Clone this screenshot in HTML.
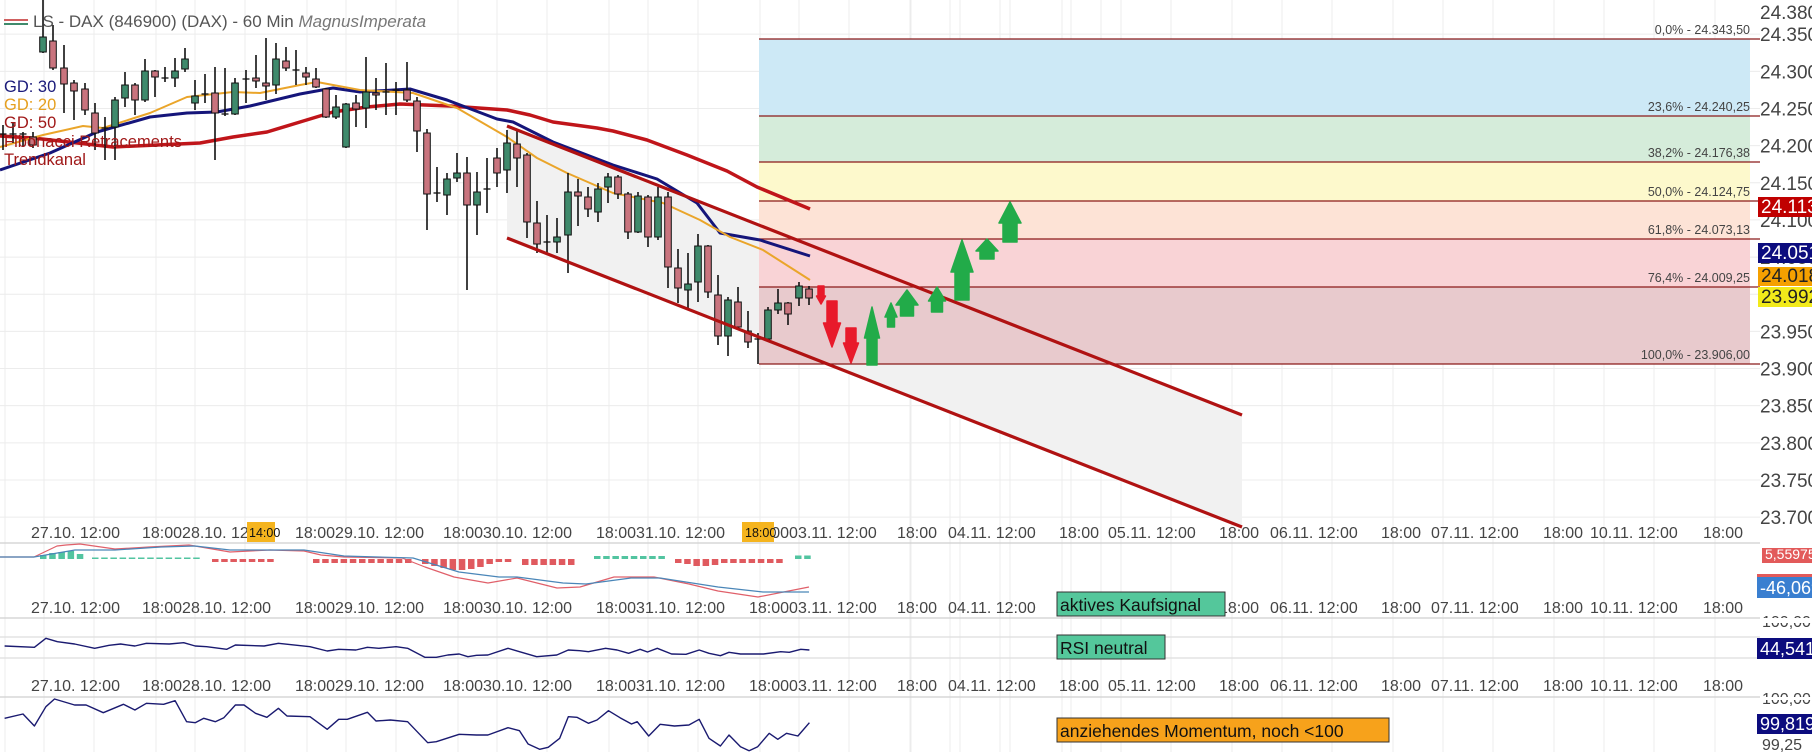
<!DOCTYPE html>
<html><head><meta charset="utf-8"><style>
html,body{margin:0;padding:0;background:#fff;width:1812px;height:752px;overflow:hidden}
svg{display:block}
text{font-family:"Liberation Sans",sans-serif}
</style></head><body>
<svg id="s" width="1812" height="752" viewBox="0 0 1812 752" xmlns="http://www.w3.org/2000/svg"></svg>
<script>
var o=[];
function P(s){o.push(s);}
function Y(p){return 39+(24343.5-p)*0.743;}
var gx=[];
for(var k=-3;k<5;k++){var b=396+151*k;gx.push(b,b+62,b+101);}
for(var k=0;k<6;k++){var b=799+161*k;gx.push(b,b+50,b+111);}
gx.forEach(function(x){if(x>0&&x<1760)P('<line x1="'+x+'" y1="0" x2="'+x+'" y2="752" stroke="#ececec" stroke-width="1"/>');});
for(var p=24350;p>=23700;p-=50){var y=Y(p);P('<line x1="0" y1="'+y+'" x2="1760" y2="'+y+'" stroke="#ececec"/>');}
P('<polygon points="507,126 1242,415 1242,527 507,238" fill="#f1f1f1"/>');
var fb=[[39,116,"#cde9f6"],[116,162,"#d5ecda"],[162,201,"#fdf9cc"],[201,239,"#fde3d6"],[239,287,"#f9d3d6"],[287,364,"#e8cacd"]];
fb.forEach(function(f){P('<rect x="759" y="'+f[0]+'" width="991" height="'+(f[1]-f[0])+'" fill="'+f[2]+'"/>');});
var fl=[[39,"0,0% - 24.343,50"],[116,"23,6% - 24.240,25"],[162,"38,2% - 24.176,38"],[201,"50,0% - 24.124,75"],[239,"61,8% - 24.073,13"],[287,"76,4% - 24.009,25"],[364,"100,0% - 23.906,00"]];
fl.forEach(function(f){P('<line x1="759" y1="'+f[0]+'" x2="1760" y2="'+f[0]+'" stroke="#8b1a1a" stroke-width="1.3"/>');P('<text x="1750" y="'+(f[0]-5)+'" font-size="12.5" fill="#444" text-anchor="end">'+f[1]+'</text>');});
function pl(pts,c,w){P('<polyline points="'+pts+'" fill="none" stroke="'+c+'" stroke-width="'+w+'" stroke-linejoin="round"/>');}
pl("0,136 33,138 113,147 200,143 233,137 267,132 300,122 333,112 367,107 400,104 450,106 507,110 530,115 553,122 597,128 613,131 647,140 687,155 727,171 757,187 810,209","#c0151a",3.5);
pl("0,170 50,153 97,132 150,117 187,113 217,112 250,106 300,94 333,88 360,92 410,89 447,100 497,119 513,122 553,142 613,165 657,179 697,203 720,233 760,240 810,256","#15157a",3);
pl("0,147 43,135 83,126 103,128 150,113 187,97 233,92 260,93 300,85 317,82 360,90 413,93 457,108 507,137 537,158 567,173 613,193 663,203 700,220 730,237 763,250 810,280","#eaa52a",2);
var C=[[3,134,136,125,150,'d'],[13,134,137,123,143,'d'],[23,134,136,132,147,'d'],[33,137,145,132,148,'p'],[43,37,52,0,53,'g'],[53,41,68,25,70,'p'],[64,68,84,45,113,'p'],[74,83,91,80,120,'p'],[85,89,110,83,115,'p'],[95,113,133,103,150,'p'],[105,128,130,117,160,'d'],[115,100,127,97,160,'g'],[125,85,98,72,107,'g'],[135,85,100,83,115,'p'],[145,71,100,59,102,'g'],[155,71,77,70,97,'p'],[165,78,80,67,82,'d'],[175,71,78,58,87,'g'],[185,59,69,48,72,'g'],[195,96,103,80,110,'g'],[205,94,96,74,103,'d'],[215,93,113,67,160,'p'],[225,114,116,68,116,'d'],[235,83,114,78,115,'g'],[246,79,81,70,103,'d'],[256,78,81,55,88,'p'],[266,83,86,38,100,'p'],[276,59,85,43,94,'g'],[286,61,68,47,71,'p'],[296,70,72,50,85,'d'],[306,73,77,67,85,'p'],[316,79,87,68,88,'p'],[326,89,117,88,118,'p'],[336,107,117,95,119,'g'],[346,104,147,103,148,'g'],[356,103,109,95,127,'p'],[366,92,108,57,128,'g'],[376,93,95,78,110,'p'],[386,92,94,63,115,'d'],[396,90,92,82,115,'d'],[407,90,100,62,102,'p'],[417,101,131,97,152,'p'],[427,133,194,129,230,'p'],[437,193,195,167,202,'d'],[447,179,195,173,215,'g'],[457,173,178,153,182,'g'],[467,173,205,157,290,'p'],[477,192,205,172,235,'g'],[487,189,191,158,213,'d'],[497,158,173,148,187,'p'],[507,143,170,130,193,'g'],[517,144,158,130,187,'p'],[527,155,222,153,238,'p'],[537,223,244,201,253,'p'],[547,242,244,215,253,'d'],[557,237,242,218,253,'g'],[568,192,235,173,273,'g'],[578,192,196,179,226,'p'],[588,197,209,187,217,'p'],[598,189,212,183,222,'g'],[608,177,187,173,203,'g'],[618,177,194,175,199,'p'],[628,194,232,192,239,'p'],[638,196,232,192,233,'g'],[648,197,237,195,247,'p'],[658,197,237,187,240,'g'],[668,197,267,192,288,'p'],[678,268,288,249,303,'p'],[688,284,290,253,308,'g'],[698,246,282,234,302,'g'],[708,246,292,245,298,'p'],[718,295,336,275,345,'p'],[728,300,336,297,356,'g'],[738,302,327,287,330,'p'],[748,331,342,311,348,'p'],[758,339,341,333,364,'d'],[768,310,339,307,340,'g'],[778,303,310,289,314,'g'],[788,303,314,302,325,'p'],[799,286,298,282,306,'g'],[809,289,298,286,305,'p']];
C.forEach(function(c){var x=c[0];P('<line x1="'+x+'" y1="'+c[3]+'" x2="'+x+'" y2="'+c[4]+'" stroke="#111" stroke-width="1.6"/>');
if(c[5]=='d'){P('<line x1="'+(x-3.5)+'" y1="'+c[1]+'" x2="'+(x+3.5)+'" y2="'+c[1]+'" stroke="#111" stroke-width="1.3"/>');}
else{P('<rect x="'+(x-3.3)+'" y="'+c[1]+'" width="6.6" height="'+Math.max(1,c[2]-c[1])+'" fill="'+(c[5]=='g'?'#3f8a6c':'#c9747e')+'" stroke="#111" stroke-width="1"/>');}});
P('<line x1="507" y1="126" x2="1242" y2="415" stroke="#b01212" stroke-width="3.2"/>');
P('<line x1="507" y1="238" x2="1242" y2="527" stroke="#b01212" stroke-width="3.2"/>');
function dn(cx,top,hs,w,hw,tip){P('<polygon points="'+(cx-w/2)+','+top+' '+(cx+w/2)+','+top+' '+(cx+w/2)+','+hs+' '+(cx+hw/2)+','+hs+' '+cx+','+tip+' '+(cx-hw/2)+','+hs+' '+(cx-w/2)+','+hs+'" fill="#e81a2b" stroke="#e81a2b" stroke-linejoin="round" stroke-width="1.5"/>');}
function up(cx,bot,hb,w,hw,tip){P('<polygon points="'+(cx-w/2)+','+bot+' '+(cx+w/2)+','+bot+' '+(cx+w/2)+','+hb+' '+(cx+hw/2)+','+hb+' '+cx+','+tip+' '+(cx-hw/2)+','+hb+' '+(cx-w/2)+','+hb+'" fill="#22ab49" stroke="#22ab49" stroke-linejoin="round" stroke-width="1.5"/>');}
dn(821,286,296,6,9,304);dn(832,301,323,10,17,347);dn(851,328,343,10,15,363);
up(872,365,338,10,15,307);up(891,327,317,7,12,303);up(907,316,305,13,22,290);up(937,312,301,11,17,287);up(962,300,272,14,22,240);up(987,259,251,14,22,239);up(1010,242,223,14,22,202);
[543,618,637,658,697].forEach(function(y,i){P('<line x1="0" y1="'+y+'" x2="1760" y2="'+y+'" stroke="'+(i==0||i==1||i==4?'#cfcfcf':'#dedede')+'" stroke-width="1.2"/>');});
var hb=[[40,83,-1,[4,6,7,8,5,2]],[92,198,-1,[1.5]],[212,270,1,[3]],[313,413,1,[4]],[422,508,1,[5,7,9,11,11,10,8,5,3]],[522,571,1,[6]],[594,660,-1,[3]],[675,781,1,[4,5,7,7,6,4]],[795,812,-1,[3.5]]];
hb.forEach(function(s){var n=0;for(var x=s[0];x<=s[1];x+=9.2){var h=s[3][Math.min(n,s[3].length-1)];n++;var col=s[2]<0?'#52c4a0':'#e05a5f';if(s[2]<0)P('<rect x="'+x+'" y="'+(559-h)+'" width="6.5" height="'+h+'" fill="'+col+'"/>');else P('<rect x="'+x+'" y="559" width="6.5" height="'+h+'" fill="'+col+'"/>');}});
pl("0,557 34,557 57,546 66,545 80,544 115,549 149,547 189,545 230,552 270,550 304,551 321,555 344,557 402,558 425,567 454,577 488,583 517,578 557,588 580,587 614,577 654,577 689,584 718,591 758,597 809,587","#e0606a",1.2);
pl("0,557 34,557 75,550 115,550 161,547 195,546 230,550 304,550 344,556 413,558 459,572 499,577 517,577 563,583 586,584 631,578 660,578 718,587 763,592 809,592","#4a86b8",1.2);
function cv(a){var r=[];for(var i=0;i<a.length;i+=2)r.push((a[i]/1.742).toFixed(1)+','+(540+a[i+1]/3).toFixed(1));return r.join(' ');}
pl(cv([8,318,60,322,80,295,100,305,130,312,165,325,190,316,210,312,235,318,255,310,295,312,320,308,340,318,360,320,395,328,410,315,460,318,485,310,540,320,570,333,590,328,620,330,640,322,660,325,690,320,710,325,740,352,760,352,780,345,800,342,815,350,830,346,850,345,885,325,905,335,935,350,970,345,990,330,1010,332,1025,335,1055,325,1075,330,1095,340,1115,328,1128,336,1145,325,1170,342,1195,343,1218,330,1235,340,1255,347,1270,337,1290,342,1330,342,1360,335,1375,337,1395,328,1410,330]),"#1a1a70",1.4);
pl(cv([8,535,40,522,60,558,80,500,95,477,130,495,150,495,180,518,215,493,235,510,255,490,285,493,305,482,325,545,340,548,355,535,375,545,390,533,410,495,425,495,445,520,465,532,485,505,500,528,540,530,570,568,590,538,605,538,640,517,655,543,680,540,710,545,745,608,760,605,800,583,830,585,850,585,885,563,905,572,920,612,940,628,955,622,975,595,990,530,1005,532,1025,550,1040,540,1060,512,1080,533,1100,552,1110,545,1130,588,1150,553,1175,558,1200,555,1218,538,1235,595,1255,618,1270,585,1290,620,1305,632,1320,620,1340,580,1355,598,1370,580,1390,588,1410,548]),"#1a1a70",1.4);
function row(y,hl){var L=[[31,"27.10. 12:00"],[142,"18:0028.10. 12:00"],[295,"18:0029.10. 12:00"],[443,"18:0030.10. 12:00"],[596,"18:0031.10. 12:00"],[749,"18:0003.11. 12:00"],[897,"18:00"],[948,"04.11. 12:00"],[1059,"18:00"],[1108,"05.11. 12:00"],[1219,"18:00"],[1270,"06.11. 12:00"],[1381,"18:00"],[1431,"07.11. 12:00"],[1543,"18:00"],[1590,"10.11. 12:00"],[1703,"18:00"]];
L.forEach(function(l){P('<text x="'+l[0]+'" y="'+y+'" font-size="16" fill="#444">'+l[1]+'</text>');});
if(hl){P('<rect x="247" y="'+(y-16)+'" width="28" height="20" fill="#f5b41e"/><text x="249" y="'+(y-1)+'" font-size="12.5" fill="#111">14:00</text>');
P('<rect x="742" y="'+(y-16)+'" width="32" height="20" fill="#f5b41e"/><text x="745" y="'+(y-1)+'" font-size="12.5" fill="#111">18:00</text>');}}
row(538,true);row(613,false);row(691,false);
P('<rect x="1760" y="0" width="52" height="752" fill="#fff"/>');
for(var p=24350;p>=23700;p-=50){var y=Y(p);var s=(p/1000).toFixed(3)+',';P('<text x="1760" y="'+(y+7)+'" font-size="19" fill="#444">'+s+'</text>');}
P('<text x="1760" y="'+(Y(24380)+7)+'" font-size="19" fill="#444">24.380,</text>');
function bd(y1,h,bg,fg,t,fs,x){P('<rect x="'+(x||1758)+'" y="'+y1+'" width="'+(1812-(x||1758))+'" height="'+h+'" fill="'+bg+'"/><text x="'+((x||1758)+3)+'" y="'+(y1+h-4)+'" font-size="'+fs+'" fill="'+fg+'">'+t+'</text>');}
bd(197,20,"#c00000","#fff","24.113,",19);
bd(243,20,"#0c0c7e","#fff","24.051",19);
bd(267,19,"#f5a000","#222","24.018",19);
bd(287,20,"#f2ea1a","#222","23.992",19);
P('<rect x="1760" y="543" width="52" height="2" fill="#fff"/>');
bd(548,15,"#e25a5a","#fff","5,55975",14,1762);
P('<rect x="1757" y="574" width="55" height="3" fill="#e25a5a"/>');
bd(577,21,"#3a7fd0","#fff","-46,069",18,1757);
P('<text x="1762" y="627" font-size="16" fill="#444">100,00</text><rect x="1760" y="618" width="52" height="5" fill="#fff"/>');
bd(638,21,"#0c0c7e","#fff","44,541",18,1757);
P('<text x="1762" y="704" font-size="16" fill="#444">100,00</text><rect x="1760" y="697" width="52" height="3" fill="#fff"/>');
bd(714,20,"#0c0c7e","#fff","99,819",18,1757);
P('<text x="1762" y="750" font-size="16" fill="#444">99,25</text>');
function sb(x,y,w,h,bg,t){P('<rect x="'+x+'" y="'+y+'" width="'+w+'" height="'+h+'" fill="'+bg+'" stroke="#333" stroke-width="1"/><text x="'+(x+3)+'" y="'+(y+h-5)+'" font-size="17.5" fill="#111">'+t+'</text>');}
sb(1057,592,168,24,"#54c79b","aktives Kaufsignal");
sb(1057,635,108,24,"#54c79b","RSI neutral");
sb(1057,718,332,24,"#f7a21b","anziehendes Momentum, noch &lt;100");
P('<line x1="4" y1="20" x2="28" y2="20" stroke="#d06060" stroke-width="2"/><line x1="4" y1="24" x2="28" y2="24" stroke="#3f8a6c" stroke-width="2"/>');
P('<text x="33" y="27" font-size="17" fill="#555">LS - DAX (846900) (DAX) - 60 Min <tspan font-style="italic" fill="#777">MagnusImperata</tspan></text>');
P('<text x="4" y="92" font-size="16.5" fill="#1a1a7a">GD: 30</text>');
P('<text x="4" y="110" font-size="16.5" fill="#e6a020">GD: 20</text>');
P('<text x="4" y="128" font-size="16.5" fill="#a01818">GD: 50</text>');
P('<text x="4" y="147" font-size="16.5" fill="#a01818">Fibonacci Retracements</text>');
P('<text x="4" y="165" font-size="16.5" fill="#a01818">Trendkanal</text>');
document.getElementById('s').innerHTML=o.join('');
</script>
</body></html>
